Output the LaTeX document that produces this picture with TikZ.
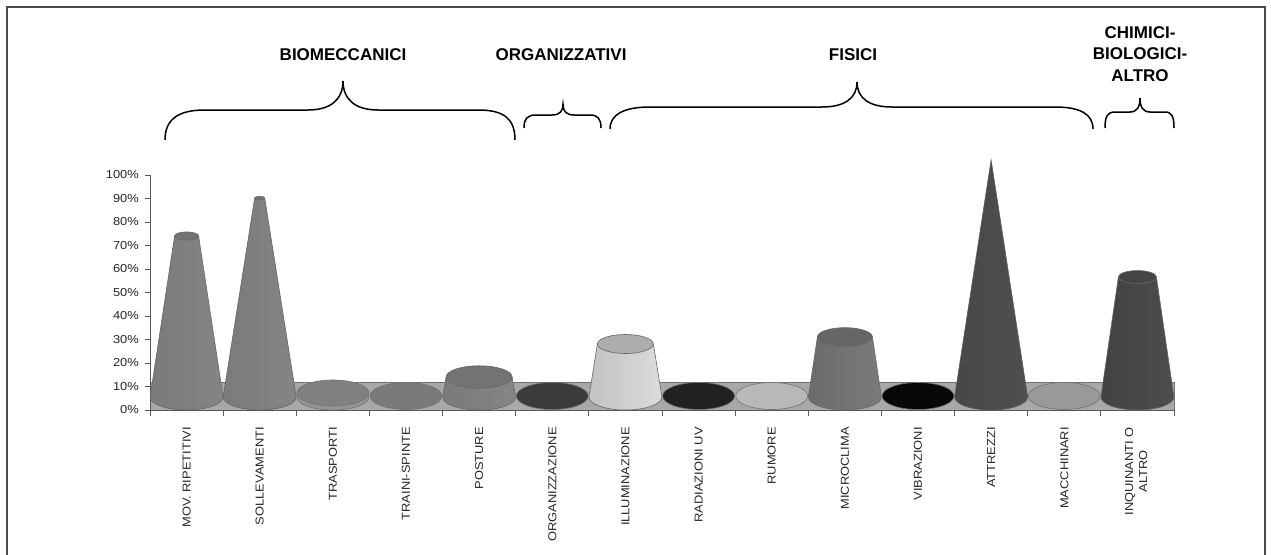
\documentclass[tikz,border=0pt]{standalone}
\usepackage{fontspec}
\setmainfont{Liberation Sans}
\usepackage{graphicx}
\definecolor{frame}{gray}{0.3}
\definecolor{axis}{gray}{0.35}
\definecolor{floorc}{gray}{0.66}
\newcommand{\pctlab}[1]{\fontsize{11.5}{12}\selectfont\scalebox{1.12}[1]{#1}}
\newcommand{\catlab}[1]{\fontsize{11.5}{13}\selectfont\scalebox{1.12}[1]{#1}}
% truncated cone: cx, top y, top rx, left, middle, right gray levels, top gray level
\newcommand{\trcone}[7]{%
  \definecolor{cl}{gray}{#4}\definecolor{cm}{gray}{#5}\definecolor{cr}{gray}{#6}\definecolor{ct}{gray}{#7}%
  \shadedraw[left color=cl, middle color=cm, right color=cr, draw=black!60, line width=0.6pt]
    ({#1+36.5},397) arc[start angle=0,end angle=180,x radius=36.5,y radius=13]
    -- ({#1-#3},#2) -- ({#1+#3},#2) -- cycle;
  \draw[fill=ct, draw=black!60, line width=0.6pt] (#1,#2) ellipse [x radius=#3, y radius={#3*0.34}];
}
\newcommand{\disk}[2]{%
  \definecolor{cd}{gray}{#2}%
  \draw[fill=cd, draw=black!55, line width=0.6pt] (#1,396) ellipse [x radius=36, y radius=13.5];
}
\tikzset{
  brace/.style={line width=1.5pt, black},
  title/.style={font=\fontsize{17}{21.5}\selectfont\bfseries, align=center, inner sep=0pt},
  cat/.style={rotate=90, anchor=east, inner sep=0pt, align=center, text=black!85},
  pct/.style={anchor=east, inner sep=0pt, text=black!85},
}
\begin{document}
\begin{tikzpicture}[x=1pt,y=-1pt]
\useasboundingbox (0,0) rectangle (1271,554);
\fill[white] (0,0) rectangle (1271,554);
% frame
\draw[frame, line width=1.6pt] (7,560) -- (7,7) -- (1265,7) -- (1265,560);

% titles
\node[title] (tbio) at (343,55) {BIOMECCANICI};
\node[title] (torg) at (561,55) {ORGANIZZATIVI};
\node[title] (tfis) at (853,55) {FISICI};
\node[title] (tchi) at (1140,54) {CHIMICI-\\BIOLOGICI-\\ALTRO};

% braces
\draw[brace] (165,140) .. controls (165,118) and (180,110) .. (205,110) -- (308,110)
  .. controls (330,110) and (343,100) .. (343,81)
  .. controls (343,100) and (356,110) .. (378,110) -- (478,110)
  .. controls (503,110) and (515,118) .. (515,140);
\draw[brace] (524,128) .. controls (524,119) and (527,115) .. (536,115) -- (552,115)
  .. controls (560,115) and (563,111) .. (563,104)
  .. controls (563,111) and (566,115) .. (574,115) -- (590,115)
  .. controls (598,115) and (601,119) .. (601,128);
\draw[brace] (610,129) .. controls (610,114) and (625,107) .. (650,107) -- (822,107)
  .. controls (845,107) and (857,98) .. (857,82)
  .. controls (857,98) and (869,107) .. (892,107) -- (1055,107)
  .. controls (1080,107) and (1093,114) .. (1093,129);
\draw[brace] (1105,128) .. controls (1105,117) and (1107,112) .. (1115,112) -- (1130,112)
  .. controls (1137,112) and (1140,107) .. (1140,98)
  .. controls (1140,107) and (1143,112) .. (1150,112) -- (1165,112)
  .. controls (1172,112) and (1174,117) .. (1174,128);

% floor strip
\draw[fill=floorc, draw=black!55, line width=0.6pt] (150,382) rectangle (1174,410);

% y axis
\draw[axis, line width=0.8pt] (150,175) -- (150,410);
\foreach \k/\t in {0/0\%,1/10\%,2/20\%,3/30\%,4/40\%,5/50\%,6/60\%,7/70\%,8/80\%,9/90\%,10/100\%}{
  \draw[axis, line width=0.8pt] (145,{410-23.5*\k}) -- (150,{410-23.5*\k});
  \node[pct] (p\k) at (139,{410-23.5*\k}) {\pctlab{\t}};
}
% x axis
\draw[axis, line width=0.8pt] (150,410) -- (1174,410);
\foreach \j in {0,...,14}{
  \draw[axis, line width=0.8pt] ({150+73.143*\j},410) -- ({150+73.143*\j},416);
}

% bars
\trcone{186.6}{236}{12}{0.48}{0.70}{0.52}{0.45}
\trcone{259.7}{198}{5}{0.48}{0.70}{0.52}{0.45}
% trasporti: thin disk
\definecolor{rim}{gray}{0.58}\definecolor{tp}{gray}{0.50}
\draw[fill=rim, draw=black!55, line width=0.6pt] (368.9,393) -- (368.9,397) arc[start angle=0,end angle=180,x radius=36,y radius=13] -- (296.9,393) -- cycle;
\draw[fill=tp, draw=black!55, line width=0.6pt] (332.9,393) ellipse [x radius=36, y radius=13];
\disk{406.0}{0.48}
\trcone{479.1}{377}{33}{0.48}{0.66}{0.52}{0.45}
\disk{552.3}{0.23}
\trcone{625.4}{344}{28}{0.76}{0.95}{0.86}{0.68}
\disk{698.6}{0.13}
\disk{771.7}{0.72}
\trcone{844.9}{337}{27.5}{0.42}{0.60}{0.48}{0.40}
\disk{918.0}{0.03}
% attrezzi: full cone
\definecolor{al}{gray}{0.28}\definecolor{am}{gray}{0.42}\definecolor{ar}{gray}{0.31}
\shadedraw[left color=al, middle color=am, right color=ar, draw=black!65, line width=0.6pt]
  (1027.6,397) arc[start angle=0,end angle=180,x radius=36.5,y radius=13] -- (991.1,160) -- cycle;
\disk{1064.3}{0.60}
\trcone{1137.4}{277}{19}{0.26}{0.40}{0.30}{0.27}

% category labels
\node[cat] (c1) at (186.6,427) {\catlab{MOV. RIPETITIVI}};
\node[cat] (c2) at (259.7,427) {\catlab{SOLLEVAMENTI}};
\node[cat] (c3) at (332.9,427) {\catlab{TRASPORTI}};
\node[cat] (c4) at (406.0,427) {\catlab{TRAINI-SPINTE}};
\node[cat] (c5) at (479.1,427) {\catlab{POSTURE}};
\node[cat] (c6) at (552.3,427) {\catlab{ORGANIZZAZIONE}};
\node[cat] (c7) at (625.4,427) {\catlab{ILLUMINAZIONE}};
\node[cat] (c8) at (698.6,427) {\catlab{RADIAZIONI UV}};
\node[cat] (c9) at (771.7,427) {\catlab{RUMORE}};
\node[cat] (c10) at (844.9,427) {\catlab{MICROCLIMA}};
\node[cat] (c11) at (918.0,427) {\catlab{VIBRAZIONI}};
\node[cat] (c12) at (991.1,427) {\catlab{ATTREZZI}};
\node[cat] (c13) at (1064.3,427) {\catlab{MACCHINARI}};
\node[cat] (c14) at (1137.4,427) {\catlab{\begin{tabular}{@{}c@{}}INQUINANTI O\\[1pt]ALTRO\end{tabular}}};
\end{tikzpicture}
\end{document}
